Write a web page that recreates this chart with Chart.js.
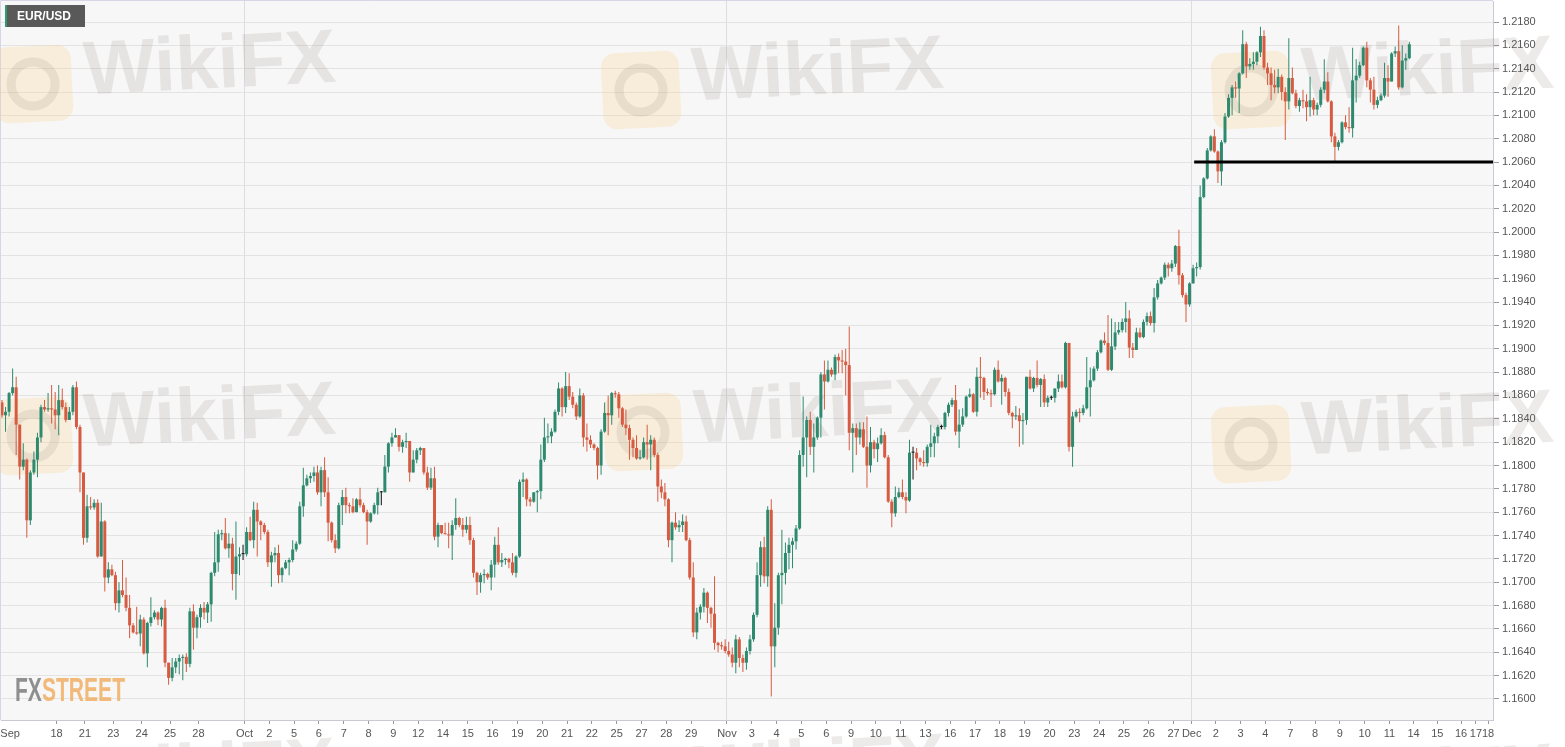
<!DOCTYPE html>
<html>
<head>
<meta charset="utf-8">
<title>EUR/USD</title>
<script src="https://cdn.jsdelivr.net/npm/chart.js@4.4.1/dist/chart.umd.min.js"></script>
<style>
  html, body { margin: 0; padding: 0; background: #fff; }
</style>
</head>
<body>
<canvas id="fx-chart" width="1565" height="747"></canvas>
<script>
// EUR/USD candles (open of each candle = previous close)
const firstOpen = 1.1854;

const closes = [
  1.1843, 1.1846, 1.1862, 1.1867, 1.1835, 1.1799, 1.1805, 1.1753, 1.1794, 1.1805,
  1.1824, 1.1850, 1.1848, 1.1849, 1.1848, 1.1843, 1.1856, 1.1850, 1.1839, 1.1846,
  1.1867, 1.1833, 1.1794, 1.1738, 1.1765, 1.1764, 1.1768, 1.1722, 1.1752, 1.1704,
  1.1711, 1.1706, 1.1682, 1.1693, 1.1689, 1.1678, 1.1663, 1.1657, 1.1656, 1.1668,
  1.1639, 1.1665, 1.1670, 1.1674, 1.1668, 1.1678, 1.1631, 1.1618, 1.1627, 1.1632,
  1.1635, 1.1636, 1.1630, 1.1675, 1.1661, 1.1670, 1.1678, 1.1674, 1.1681, 1.1708,
  1.1717, 1.1741, 1.1742, 1.1729, 1.1733, 1.1707, 1.1722, 1.1724, 1.1724, 1.1743,
  1.1736, 1.1762, 1.1752, 1.1749, 1.1743, 1.1717, 1.1723, 1.1725, 1.1706, 1.1712,
  1.1717, 1.1719, 1.1728, 1.1733, 1.1765, 1.1783, 1.1789, 1.1791, 1.1794, 1.1777,
  1.1796, 1.1777, 1.1751, 1.1736, 1.1729, 1.1766, 1.1773, 1.1766, 1.1765, 1.1760,
  1.1771, 1.1766, 1.1760, 1.1752, 1.1759, 1.1766, 1.1777, 1.1777, 1.1799, 1.1819,
  1.1824, 1.1826, 1.1816, 1.1820, 1.1821, 1.1794, 1.1805, 1.1813, 1.1815, 1.1794,
  1.1781, 1.1789, 1.1739, 1.1749, 1.1742, 1.1741, 1.1740, 1.1749, 1.1755, 1.1749,
  1.1745, 1.1749, 1.1736, 1.1708, 1.1700, 1.1706, 1.1707, 1.1704, 1.1715, 1.1732,
  1.1717, 1.1719, 1.1720, 1.1717, 1.1708, 1.1722, 1.1786, 1.1788, 1.1771, 1.1769,
  1.1777, 1.1778, 1.1805, 1.1824, 1.1825, 1.1829, 1.1846, 1.1866, 1.1850, 1.1868,
  1.1859, 1.1852, 1.1842, 1.1860, 1.1824, 1.1822, 1.1818, 1.1815, 1.1800, 1.1829,
  1.1845, 1.1843, 1.1862, 1.1861, 1.1849, 1.1835, 1.1832, 1.1822, 1.1815, 1.1806,
  1.1807, 1.1820, 1.1818, 1.1822, 1.1809, 1.1782, 1.1777, 1.1771, 1.1736, 1.1751,
  1.1747, 1.1749, 1.1752, 1.1736, 1.1704, 1.1657, 1.1674, 1.1679, 1.1691, 1.1678,
  1.1673, 1.1648, 1.1646, 1.1645, 1.1641, 1.1638, 1.1631, 1.1651, 1.1635, 1.1631,
  1.1641, 1.1651, 1.1672, 1.1706, 1.1730, 1.1705, 1.1762, 1.1645, 1.1661, 1.1706,
  1.1708, 1.1725, 1.1732, 1.1735, 1.1746, 1.1809, 1.1824, 1.1839, 1.1816, 1.1824,
  1.1841, 1.1878, 1.1872, 1.1882, 1.1878, 1.1893, 1.1890, 1.1889, 1.1886, 1.1828,
  1.1832, 1.1824, 1.1831, 1.1816, 1.1800, 1.1820, 1.1814, 1.1819, 1.1826, 1.1807,
  1.1769, 1.1759, 1.1773, 1.1777, 1.1773, 1.1770, 1.1811, 1.1811, 1.1806, 1.1803,
  1.1802, 1.1816, 1.1819, 1.1825, 1.1833, 1.1833, 1.1845, 1.1852, 1.1856, 1.1829,
  1.1835, 1.1842, 1.1859, 1.1861, 1.1846, 1.1876, 1.1875, 1.1863, 1.1862, 1.1861,
  1.1882, 1.1872, 1.1875, 1.1863, 1.1845, 1.1842, 1.1843, 1.1838, 1.1839, 1.1876,
  1.1866, 1.1875, 1.1869, 1.1874, 1.1854, 1.1858, 1.1858, 1.1866, 1.1872, 1.1867,
  1.1905, 1.1816, 1.1842, 1.1846, 1.1845, 1.1849, 1.1867, 1.1873, 1.1883, 1.1897,
  1.1907, 1.1905, 1.1882, 1.1902, 1.1914, 1.1916, 1.1923, 1.1926, 1.1901, 1.1899,
  1.1914, 1.1910, 1.1923, 1.1928, 1.1922, 1.1944, 1.1956, 1.1961, 1.1972, 1.1969,
  1.1973, 1.1988, 1.1963, 1.1946, 1.1938, 1.1956, 1.1969, 1.1970, 1.2030, 1.2046,
  1.2070, 1.2082, 1.2069, 1.2052, 1.2077, 1.2099, 1.2115, 1.2124, 1.2123, 1.2136,
  1.2161, 1.2142, 1.2144, 1.2146, 1.2154, 1.2168, 1.2141, 1.2136, 1.2126, 1.2124,
  1.2133, 1.2120, 1.2112, 1.2132, 1.2119, 1.2108, 1.2113, 1.2112, 1.2107, 1.2113,
  1.2105, 1.2109, 1.2122, 1.2129, 1.2112, 1.2082, 1.2073, 1.2077, 1.2094, 1.2090,
  1.2089, 1.2130, 1.2134, 1.2143, 1.2158, 1.2130, 1.2122, 1.2109, 1.2113, 1.2117,
  1.2132, 1.2129, 1.2153, 1.2155, 1.2124, 1.2147, 1.2149, 1.2161
];

const highs = [
  1.1856, 1.1850, 1.1863, 1.1883, 1.1876, 1.1835, 1.1819, 1.1806, 1.1796, 1.1812,
  1.1828, 1.1852, 1.1856, 1.1862, 1.1869, 1.1863, 1.1869, 1.1866, 1.1854, 1.1850,
  1.1869, 1.1872, 1.1835, 1.1794, 1.1775, 1.1773, 1.1771, 1.1771, 1.1768, 1.1753,
  1.1717, 1.1715, 1.1709, 1.1700, 1.1719, 1.1704, 1.1689, 1.1665, 1.1679, 1.1672,
  1.1670, 1.1666, 1.1687, 1.1676, 1.1675, 1.1679, 1.1685, 1.1631, 1.1635, 1.1635,
  1.1638, 1.1638, 1.1639, 1.1678, 1.1681, 1.1672, 1.1681, 1.1683, 1.1683, 1.1709,
  1.1743, 1.1745, 1.1745, 1.1755, 1.1742, 1.1738, 1.1752, 1.1730, 1.1732, 1.1747,
  1.1756, 1.1769, 1.1768, 1.1753, 1.1751, 1.1745, 1.1726, 1.1730, 1.1732, 1.1713,
  1.1719, 1.1721, 1.1736, 1.1735, 1.1769, 1.1798, 1.1792, 1.1794, 1.1799, 1.1800,
  1.1799, 1.1807, 1.1790, 1.1752, 1.1741, 1.1768, 1.1779, 1.1781, 1.1768, 1.1772,
  1.1772, 1.1781, 1.1768, 1.1762, 1.1760, 1.1768, 1.1781, 1.1778, 1.1809, 1.1820,
  1.1828, 1.1832, 1.1826, 1.1822, 1.1828, 1.1820, 1.1813, 1.1815, 1.1816, 1.1815,
  1.1799, 1.1798, 1.1799, 1.1751, 1.1749, 1.1751, 1.1751, 1.1753, 1.1772, 1.1756,
  1.1755, 1.1756, 1.1756, 1.1738, 1.1709, 1.1708, 1.1711, 1.1708, 1.1719, 1.1739,
  1.1747, 1.1725, 1.1721, 1.1721, 1.1725, 1.1723, 1.1788, 1.1794, 1.1789, 1.1773,
  1.1777, 1.1779, 1.1818, 1.1841, 1.1836, 1.1832, 1.1848, 1.1871, 1.1867, 1.1880,
  1.1879, 1.1863, 1.1854, 1.1866, 1.1862, 1.1836, 1.1826, 1.1819, 1.1816, 1.1831,
  1.1854, 1.1860, 1.1863, 1.1864, 1.1863, 1.1850, 1.1848, 1.1835, 1.1824, 1.1826,
  1.1813, 1.1824, 1.1835, 1.1826, 1.1824, 1.1811, 1.1788, 1.1785, 1.1772, 1.1752,
  1.1760, 1.1753, 1.1758, 1.1757, 1.1738, 1.1717, 1.1678, 1.1681, 1.1695, 1.1692,
  1.1679, 1.1705, 1.1649, 1.1649, 1.1651, 1.1649, 1.1644, 1.1655, 1.1653, 1.1638,
  1.1644, 1.1655, 1.1674, 1.1717, 1.1735, 1.1739, 1.1765, 1.1771, 1.1682, 1.1708,
  1.1745, 1.1734, 1.1738, 1.1738, 1.1749, 1.1813, 1.1859, 1.1842, 1.1846, 1.1836,
  1.1842, 1.1880, 1.1890, 1.1890, 1.1884, 1.1895, 1.1896, 1.1899, 1.1900, 1.1919,
  1.1836, 1.1836, 1.1837, 1.1837, 1.1842, 1.1833, 1.1822, 1.1824, 1.1832, 1.1829,
  1.1809, 1.1771, 1.1782, 1.1781, 1.1788, 1.1777, 1.1822, 1.1816, 1.1815, 1.1807,
  1.1813, 1.1818, 1.1835, 1.1828, 1.1835, 1.1835, 1.1846, 1.1854, 1.1858, 1.1869,
  1.1848, 1.1849, 1.1860, 1.1866, 1.1862, 1.1884, 1.1893, 1.1876, 1.1866, 1.1865,
  1.1884, 1.1890, 1.1878, 1.1876, 1.1866, 1.1846, 1.1851, 1.1849, 1.1845, 1.1876,
  1.1882, 1.1876, 1.1890, 1.1875, 1.1878, 1.1860, 1.1860, 1.1866, 1.1878, 1.1878,
  1.1906, 1.1905, 1.1846, 1.1848, 1.1849, 1.1852, 1.1893, 1.1884, 1.1885, 1.1899,
  1.1908, 1.1914, 1.1929, 1.1926, 1.1923, 1.1923, 1.1926, 1.1940, 1.1933, 1.1905,
  1.1918, 1.1918, 1.1925, 1.1931, 1.1932, 1.1952, 1.1959, 1.1962, 1.1974, 1.1974,
  1.1976, 1.1989, 1.2002, 1.1965, 1.1948, 1.1957, 1.1972, 1.1974, 1.2040, 1.2047,
  1.2072, 1.2083, 1.2088, 1.2070, 1.2079, 1.2102, 1.2118, 1.2126, 1.2129, 1.2137,
  1.2173, 1.2163, 1.2149, 1.2154, 1.2155, 1.2176, 1.2173, 1.2145, 1.2141, 1.2139,
  1.2140, 1.2135, 1.2124, 1.2166, 1.2141, 1.2122, 1.2115, 1.2122, 1.2118, 1.2133,
  1.2115, 1.2111, 1.2124, 1.2148, 1.2137, 1.2113, 1.2085, 1.2079, 1.2095, 1.2100,
  1.2107, 1.2158, 1.2148, 1.2146, 1.2159, 1.2163, 1.2132, 1.2133, 1.2116, 1.2119,
  1.2145, 1.2143, 1.2154, 1.2159, 1.2177, 1.2160, 1.2153, 1.2163
];

const lows = [
  1.1841, 1.1829, 1.1842, 1.1860, 1.1809, 1.1788, 1.1796, 1.1738, 1.1749, 1.1792,
  1.1790, 1.1820, 1.1846, 1.1846, 1.1836, 1.1831, 1.1826, 1.1848, 1.1837, 1.1839,
  1.1843, 1.1831, 1.1777, 1.1732, 1.1734, 1.1762, 1.1762, 1.1721, 1.1722, 1.1692,
  1.1699, 1.1705, 1.1676, 1.1674, 1.1687, 1.1675, 1.1652, 1.1656, 1.1655, 1.1645,
  1.1638, 1.1627, 1.1662, 1.1668, 1.1663, 1.1662, 1.1627, 1.1612, 1.1615, 1.1622,
  1.1621, 1.1616, 1.1623, 1.1627, 1.1642, 1.1652, 1.1661, 1.1668, 1.1665, 1.1666,
  1.1705, 1.1709, 1.1736, 1.1728, 1.1721, 1.1693, 1.1685, 1.1706, 1.1719, 1.1722,
  1.1735, 1.1729, 1.1722, 1.1736, 1.1741, 1.1713, 1.1696, 1.1717, 1.1699, 1.1700,
  1.1711, 1.1706, 1.1717, 1.1726, 1.1732, 1.1756, 1.1782, 1.1785, 1.1786, 1.1775,
  1.1765, 1.1773, 1.1735, 1.1734, 1.1725, 1.1728, 1.1749, 1.1759, 1.1759, 1.1759,
  1.1762, 1.1764, 1.1759, 1.1732, 1.1751, 1.1758, 1.1758, 1.1766, 1.1777, 1.1794,
  1.1816, 1.1824, 1.1812, 1.1811, 1.1815, 1.1786, 1.1794, 1.1802, 1.1809, 1.1792,
  1.1779, 1.1779, 1.1736, 1.1730, 1.1741, 1.1741, 1.1729, 1.1719, 1.1745, 1.1747,
  1.1739, 1.1742, 1.1732, 1.1704, 1.1689, 1.1691, 1.1699, 1.1702, 1.1693, 1.1704,
  1.1715, 1.1713, 1.1715, 1.1712, 1.1706, 1.1704, 1.1721, 1.1773, 1.1765, 1.1765,
  1.1768, 1.1760, 1.1771, 1.1803, 1.1819, 1.1819, 1.1828, 1.1843, 1.1842, 1.1845,
  1.1856, 1.1849, 1.1839, 1.1841, 1.1816, 1.1812, 1.1815, 1.1813, 1.1788, 1.1792,
  1.1828, 1.1826, 1.1835, 1.1858, 1.1841, 1.1833, 1.1826, 1.1805, 1.1807, 1.1805,
  1.1805, 1.1806, 1.1805, 1.1796, 1.1807, 1.1769, 1.1772, 1.1765, 1.1730, 1.1717,
  1.1745, 1.1743, 1.1743, 1.1735, 1.1702, 1.1653, 1.1651, 1.1668, 1.1674, 1.1665,
  1.1661, 1.1642, 1.1640, 1.1642, 1.1639, 1.1636, 1.1627, 1.1622, 1.1627, 1.1623,
  1.1625, 1.1638, 1.1649, 1.1670, 1.1696, 1.1699, 1.1696, 1.1602, 1.1627, 1.1655,
  1.1681, 1.1698, 1.1711, 1.1712, 1.1728, 1.1745, 1.1799, 1.1790, 1.1809, 1.1794,
  1.1822, 1.1824, 1.1848, 1.1871, 1.1876, 1.1873, 1.1879, 1.1879, 1.1860, 1.1813,
  1.1794, 1.1809, 1.1818, 1.1815, 1.1781, 1.1794, 1.1806, 1.1803, 1.1818, 1.1806,
  1.1768, 1.1747, 1.1756, 1.1772, 1.1771, 1.1759, 1.1769, 1.1788, 1.1796, 1.1800,
  1.1799, 1.1799, 1.1807, 1.1807, 1.1819, 1.1831, 1.1831, 1.1842, 1.1850, 1.1826,
  1.1815, 1.1833, 1.1841, 1.1858, 1.1845, 1.1842, 1.1858, 1.1856, 1.1860, 1.1850,
  1.1860, 1.1871, 1.1852, 1.1859, 1.1843, 1.1832, 1.1839, 1.1816, 1.1818, 1.1835,
  1.1865, 1.1863, 1.1867, 1.1850, 1.1850, 1.1850, 1.1856, 1.1854, 1.1863, 1.1866,
  1.1866, 1.1812, 1.1799, 1.1841, 1.1837, 1.1843, 1.1848, 1.1842, 1.1872, 1.1881,
  1.1896, 1.1903, 1.1881, 1.1881, 1.1899, 1.1912, 1.1914, 1.1914, 1.1892, 1.1892,
  1.1899, 1.1909, 1.1909, 1.1920, 1.1920, 1.1914, 1.1942, 1.1955, 1.1959, 1.1962,
  1.1966, 1.1970, 1.1955, 1.1944, 1.1923, 1.1936, 1.1956, 1.1962, 1.1968, 1.2029,
  1.2045, 1.2069, 1.2068, 1.2042, 1.2040, 1.2076, 1.2098, 1.2100, 1.2115, 1.2102,
  1.2135, 1.2132, 1.2139, 1.2139, 1.2143, 1.2150, 1.2139, 1.2126, 1.2113, 1.2119,
  1.2119, 1.2113, 1.2079, 1.2105, 1.2118, 1.2106, 1.2103, 1.2106, 1.2095, 1.2099,
  1.2100, 1.2100, 1.2107, 1.2119, 1.2111, 1.2077, 1.2060, 1.2070, 1.2076, 1.2088,
  1.2085, 1.2081, 1.2111, 1.2132, 1.2142, 1.2124, 1.2111, 1.2105, 1.2106, 1.2112,
  1.2115, 1.2116, 1.2130, 1.2150, 1.2122, 1.2123, 1.2139, 1.2148
];

// date labels on the time axis, and where they sit (in candle slots)
const dateLabels = [
  'Sep', '18', '21', '23', '24', '25', '28',
  'Oct', '2', '5', '6', '7', '8', '9', '12', '14', '15', '16', '19', '20', '21', '22', '25', '27', '28', '29',
  'Nov', '3', '4', '5', '6', '9', '10', '11', '13', '16', '17', '18', '19', '20', '23', '24', '25', '26', '27',
  'Dec', '2', '3', '4', '7', '8', '9', '10', '11', '14', '15', '16', '17', '18'
];
const dateSlots = [
  2.3, 15.4, 23.4, 31.4, 39.4, 47.4, 55.4,
  68.4, 75.4, 82.4, 89.4, 96.4, 103.4, 110.4, 117.4, 124.4, 131.4, 138.4, 145.4, 152.4, 159.4, 166.4, 173.4, 180.4, 187.4, 194.4,
  204.5, 211.5, 218.5, 225.5, 232.5, 239.5, 246.5, 253.5, 260.5, 267.5, 274.5, 281.5, 288.5, 295.5, 302.5, 309.5, 316.5, 323.5, 330.5,
  335.6, 342.4, 349.4, 356.4, 363.4, 370.4, 377.4, 384.4, 391.4, 398.2, 404.9, 411.6, 415.8, 419.2
];
const monthNames = ['Sep', 'Oct', 'Nov', 'Dec'];

const priceTicks = [
  1.1600, 1.1620, 1.1640, 1.1660, 1.1680, 1.1700, 1.1720, 1.1740, 1.1760, 1.1780,
  1.1800, 1.1820, 1.1840, 1.1860, 1.1880, 1.1900, 1.1920, 1.1940, 1.1960, 1.1980,
  1.2000, 1.2020, 1.2040, 1.2060, 1.2080, 1.2100, 1.2120, 1.2140, 1.2160, 1.2180
];

const supportLevel = 1.2060;
const supportFrom = 336.3;

const X_MIN = -0.28, X_MAX = 420.6;
const Y_MIN = 1.15819, Y_MAX = 1.2198;

const UP = '#2e8a6e', DOWN = '#d65b40', FLAT = '#111111';
const FONT = "'Liberation Sans', Arial, sans-serif";

const opens = closes.map((c, i) => i === 0 ? firstOpen : closes[i - 1]);
const candleColor = closes.map((c, i) => c > opens[i] ? UP : (c < opens[i] ? DOWN : FLAT));

const wickData = closes.map((c, i) => ({
  x: i,
  y: [Math.min(lows[i], opens[i], c), Math.max(highs[i], opens[i], c)]
}));
const bodyData = closes.map((c, i) => ({ x: i, y: [opens[i], c] }));

// watermark spots (left edge of logo tile, vertical middle)
const wikiMarks = [[-6, 84], [602, 90], [1212, 90], [-6, 436], [604, 432], [1212, 444], [-6, 792], [604, 788], [1212, 798]];

function drawWikiMark(ctx, x, y) {
  ctx.save();
  ctx.translate(x, y);
  ctx.rotate(-0.05);
  ctx.fillStyle = 'rgba(250, 205, 120, 0.22)';
  ctx.beginPath();
  ctx.roundRect(0, -36, 78, 76, 14);
  ctx.fill();
  ctx.strokeStyle = 'rgba(130, 105, 105, 0.13)';
  ctx.lineWidth = 9;
  ctx.beginPath();
  ctx.arc(39, 2, 22, 0, Math.PI * 2);
  ctx.stroke();
  ctx.fillStyle = 'rgba(130, 105, 105, 0.14)';
  ctx.font = "bold 76px " + FONT;
  ctx.textBaseline = 'middle';
  ctx.fillText('WikiFX', 90, -6);
  ctx.restore();
}

const decorPlugin = {
  id: 'decor',
  beforeDraw(chart) {
    const { ctx, chartArea: a } = chart;
    ctx.save();
    ctx.fillStyle = '#ffffff';
    ctx.fillRect(0, 0, chart.width, chart.height);
    ctx.fillStyle = '#f7f7f7';
    ctx.fillRect(a.left, a.top, a.right - a.left, a.bottom - a.top);
    ctx.restore();
  },
  beforeDatasetsDraw(chart) {
    const { ctx, chartArea: a } = chart;
    ctx.save();
    ctx.strokeStyle = '#d6d6e6';
    ctx.lineWidth = 1;
    ctx.beginPath();
    ctx.moveTo(a.left - 0.5, a.bottom);
    ctx.lineTo(a.left - 0.5, a.top - 0.5);
    ctx.lineTo(a.right, a.top - 0.5);
    ctx.stroke();
    ctx.restore();
    wikiMarks.forEach(m => drawWikiMark(ctx, m[0], m[1]));
  },
  afterDraw(chart) {
    const ctx = chart.ctx;
    ctx.save();
    // symbol tag
    ctx.fillStyle = '#595959';
    ctx.fillRect(5, 5, 80, 22);
    ctx.fillStyle = '#2f9a72';
    ctx.fillRect(5, 5, 2, 22);
    ctx.fillStyle = '#ffffff';
    ctx.font = "bold 12px " + FONT;
    ctx.textBaseline = 'middle';
    ctx.fillText('EUR/USD', 17, 16.5);
    // FXSTREET logo
    ctx.font = "bold 34px 'Liberation Sans Narrow', 'Liberation Sans', sans-serif";
    ctx.textBaseline = 'alphabetic';
    const wFx = ctx.measureText('FX').width;
    const wAll = ctx.measureText('FXSTREET').width;
    const sx = 110 / wAll;
    ctx.translate(15, 701);
    ctx.scale(sx, 1.0);
    ctx.fillStyle = 'rgba(125, 125, 125, 0.85)';
    ctx.fillText('FX', 0, 0);
    ctx.fillStyle = 'rgba(240, 175, 100, 0.85)';
    ctx.fillText('STREET', wFx, 0);
    ctx.restore();
  }
};

const ctx = document.getElementById('fx-chart').getContext('2d');

const fxChart = new Chart(ctx, {
  type: 'bar',
  data: {
    datasets: [
      {
        type: 'line',
        data: [{ x: supportFrom, y: supportLevel }, { x: X_MAX, y: supportLevel }],
        borderColor: '#000000',
        borderWidth: 3,
        pointRadius: 0,
        order: 0
      },
      {
        data: bodyData,
        backgroundColor: candleColor,
        barThickness: 3,
        minBarLength: 1,
        grouped: false,
        inflateAmount: 0,
        order: 1
      },
      {
        data: wickData,
        backgroundColor: candleColor,
        barThickness: 1,
        grouped: false,
        inflateAmount: 0,
        order: 2
      }
    ]
  },
  options: {
    responsive: false,
    animation: false,
    devicePixelRatio: 1,
    layout: { padding: { top: 1, left: 1, right: 0, bottom: 0 } },
    plugins: {
      legend: { display: false },
      tooltip: { enabled: false }
    },
    scales: {
      x: {
        type: 'linear',
        min: X_MIN,
        max: X_MAX,
        offset: false,
        afterBuildTicks: scale => {
          scale.ticks = dateSlots.map(v => ({ value: v }));
        },
        afterFit: scale => {
          scale.height = 27;
          scale.paddingLeft = 0;
          scale.paddingRight = 0;
        },
        grid: {
          offset: false,
          tickLength: 4,
          color: c => monthNames.includes(dateLabels[c.index]) && c.index > 0 ? '#dcdce4' : 'rgba(0,0,0,0)',
          tickColor: c => c.index === 0 ? 'rgba(0,0,0,0)' : '#9a9a9a'
        },
        border: { color: '#c9c9d6' },
        ticks: {
          autoSkip: false,
          maxRotation: 0,
          padding: 3,
          color: '#555555',
          font: { family: FONT, size: 11 },
          callback: (v, i) => dateLabels[i]
        }
      },
      y: {
        position: 'right',
        min: Y_MIN,
        max: Y_MAX,
        afterBuildTicks: scale => {
          scale.ticks = priceTicks.map(v => ({ value: v }));
        },
        afterFit: scale => {
          scale.width = 72;
          scale.paddingTop = 0;
          scale.paddingBottom = 0;
        },
        grid: {
          color: '#e3e3e3',
          tickLength: 6,
          tickColor: '#9a9a9a'
        },
        border: { color: '#c9c9d6' },
        ticks: {
          padding: 3,
          color: '#555555',
          font: { family: FONT, size: 11 },
          callback: v => v.toFixed(4)
        }
      }
    }
  },
  plugins: [decorPlugin]
});
</script>
</body>
</html>
